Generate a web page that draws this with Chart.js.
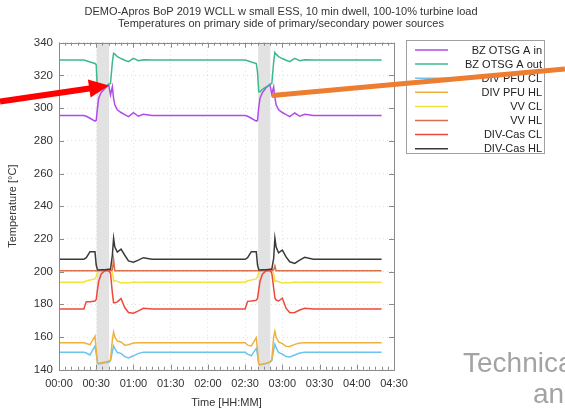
<!DOCTYPE html>
<html>
<head>
<meta charset="utf-8">
<script src="https://cdn.jsdelivr.net/npm/chart.js@4.4.1/dist/chart.umd.min.js"></script>
<style>
  html, body { margin: 0; padding: 0; background: #fff; }
  #wrap { position: relative; width: 565px; height: 411px; }
</style>
</head>
<body>
<div id="wrap"><canvas id="c" width="565" height="411"></canvas></div>
<script>
// time in minutes from start
const times = [
  0, 20, 22, 25, 29, 30, 31, 32, 34, 37, 40, 41.5, 43, 44, 45, 47, 50, 53, 56, 60, 64, 68, 75, 100,
  150, 152, 155, 159, 160, 161, 162, 164, 167, 170, 171.5, 173, 174, 175, 177, 180, 183, 186, 190, 194, 198, 205, 230, 260
];

const bzOtsgIn = [
  295.5, 295.5, 295, 293.8, 292, 292.5, 300, 306, 309.5, 312, 314.5, 308, 313, 306, 302, 299, 297.3, 296, 294.8, 297.2, 295, 296.2, 295.5, 295.5,
  295.5, 295, 293.8, 292, 292.5, 300.5, 306, 309.5, 312.5, 314.5, 308.5, 313, 306.5, 302, 299, 297.3, 296, 294.8, 297, 295, 296.2, 295.5, 295.5, 295.5
];
const bzOtsgOut = [
  329.4, 329.4, 329, 328.2, 327.3, 326.5, 310.5, 310.5, 311.5, 313, 314.5, 315, 328, 333.5, 333, 331.5, 330.3, 329.3, 328.4, 330.4, 329, 329.6, 329.4, 329.4,
  329.4, 329, 328.2, 327.3, 322, 310, 310, 311.5, 313, 314.5, 315, 328, 334, 333, 331.5, 330.3, 329.3, 328.4, 330.4, 329, 329.6, 329.4, 329.4, 329.4
];
const divPfuCl = [
  150.6, 150.6, 150.2, 149, 154.5, 150, 144, 143.5, 143.8, 144.2, 144.6, 145.5, 151, 154.5, 153, 150.5, 150, 148, 147.2, 148.5, 150, 150.6, 150.6, 150.6,
  150.6, 149.5, 148.5, 153, 149, 143.3, 143, 143.3, 143.8, 144.5, 145.5, 152, 155.5, 153.5, 150.5, 149.5, 148, 147.8, 149, 150.2, 150.6, 150.6, 150.6, 150.6
];
const divPfuHl = [
  156.5, 156.5, 156, 155.3, 160.5, 152, 144.5, 143.8, 144.2, 144.7, 145.2, 146, 158, 163, 160, 157.5, 157, 155, 155.3, 156.3, 156.5, 156.5, 156.5, 156.5,
  156.5, 155, 154.5, 159.5, 152, 143.5, 143, 143.5, 144, 144.8, 146, 160, 163.5, 160, 157, 156, 154.3, 154.2, 155.5, 156.3, 156.5, 156.5, 156.5, 156.5
];
const vvCl = [
  193.5, 193.5, 194.4, 194.8, 195.5, 197, 199.5, 200.5, 201, 201, 201, 201, 200, 194, 194.5, 194, 193, 193.3, 193, 193.6, 193.3, 193.5, 193.5, 193.5,
  193.5, 194.4, 194.8, 195.5, 197, 199.5, 200.5, 201, 201, 201, 201, 199, 194, 194.3, 193.8, 193, 193.3, 193, 193.6, 193.3, 193.5, 193.5, 193.5, 193.5
];
const vvHl = [
  200.5, 200.5, 200.5, 200.5, 200.5, 200.5, 200.5, 200.5, 200.5, 200.5, 200.5, 200.5, 201, 207.5, 200.5, 200.5, 200.5, 200.5, 200.5, 200.5, 200.5, 200.5, 200.5, 200.5,
  200.5, 200.5, 200.5, 200.5, 200.5, 200.5, 200.5, 200.5, 200.5, 200.5, 200.5, 201, 203.5, 200.5, 200.5, 200.5, 200.5, 200.5, 200.5, 200.5, 200.5, 200.5, 200.5, 200.5
];
const divCasCl = [
  177.1, 177.1, 181.5, 181.6, 182, 183, 189, 194, 198.5, 200.5, 200.8, 199, 187, 181, 181, 181.5, 183.5, 178, 175, 174.5, 176, 177.6, 177.1, 177.1,
  177.1, 181.8, 182, 182.5, 183.5, 189, 194, 198.5, 200.5, 200.8, 199, 190, 184, 182.5, 182, 183.7, 177.6, 174.8, 175, 176.5, 177.6, 177.1, 177.1, 177.1
];
const divCasHl = [
  207.5, 207.5, 208.5, 212.2, 212.2, 204, 201.2, 201, 201.2, 201.2, 201.5, 201.5, 210, 220.4, 215, 212, 213.8, 210, 206.5, 205.7, 207, 208.5, 207.5, 207.5,
  207.5, 208.5, 212.2, 212.2, 204, 201.2, 201, 201.2, 201.2, 201.5, 201.5, 208, 220.4, 215, 211.5, 213.2, 209, 206, 205, 207, 208.7, 207.5, 207.5, 207.5
];

const seriesLabels = ['BZ OTSG A in', 'BZ OTSG A out', 'DIV PFU CL', 'DIV PFU HL', 'VV CL', 'VV HL', 'DIV-Cas CL', 'DIV-Cas HL'];
const seriesValues = [bzOtsgIn, bzOtsgOut, divPfuCl, divPfuHl, vvCl, vvHl, divCasCl, divCasHl];
const seriesColors = ['#b04ae8', '#3cb88e', '#6cc4f0', '#f0b040', '#f2e43c', '#d8704a', '#f0483c', '#3a3a3a'];

const tickLabels = ['00:00', '00:30', '01:00', '01:30', '02:00', '02:30', '03:00', '03:30', '04:00', '04:30'];
const dwellBands = [[30.4, 40.4], [160.5, 170.3]];

const FONT = "'Liberation Sans', Arial, sans-serif";
const TXT = '#333';

const decor = {
  id: 'decor',
  beforeDatasetsDraw(chart) {
    const { ctx, chartArea: a, scales: { x } } = chart;
    ctx.save();
    ctx.fillStyle = '#e2e2e2';
    dwellBands.forEach(([s, e]) => {
      const x0 = x.getPixelForValue(s), x1 = x.getPixelForValue(e);
      ctx.fillRect(x0, a.top, x1 - x0, a.bottom - a.top);
    });
    ctx.restore();
  },
  afterDatasetsDraw(chart) {
    const { ctx, chartArea: a, scales: { x, y } } = chart;
    ctx.save();
    ctx.strokeStyle = '#8a8a8a';
    ctx.lineWidth = 1;
    ctx.strokeRect(Math.round(a.left) + 0.5, Math.round(a.top) + 0.5,
      Math.round(a.right - a.left), Math.round(a.bottom - a.top));
    ctx.beginPath();
    for (let t = 0; t <= 270; t += 5) {
      const px = Math.round(x.getPixelForValue(t)) + 0.5;
      const len = t % 30 === 0 ? 5 : 3;
      ctx.moveTo(px, a.bottom); ctx.lineTo(px, a.bottom - len);
      ctx.moveTo(px, a.top); ctx.lineTo(px, a.top + len);
    }
    for (let v = 140; v <= 340; v += 20) {
      const py = Math.round(y.getPixelForValue(v)) + 0.5;
      ctx.moveTo(a.left, py); ctx.lineTo(a.left + 5, py);
      ctx.moveTo(a.right, py); ctx.lineTo(a.right - 5, py);
    }
    ctx.stroke();
    ctx.restore();
  },
  afterDraw(chart) {
    const { ctx } = chart;
    ctx.save();
    // title
    ctx.fillStyle = TXT;
    ctx.font = '11px ' + FONT;
    ctx.textAlign = 'center';
    ctx.textBaseline = 'middle';
    ctx.fillText('DEMO-Apros BoP 2019 WCLL w small ESS, 10 min dwell, 100-10% turbine load', 281, 12);
    ctx.fillText('Temperatures on primary side of primary/secondary power sources', 281, 24);

    // legend
    ctx.strokeStyle = '#a0a0a0';
    ctx.lineWidth = 1;
    ctx.strokeRect(406.5, 40.5, 138, 113);
    ctx.textAlign = 'right';
    chart.data.datasets.forEach((ds, i) => {
      const ly = 50 + i * 14.1;
      ctx.strokeStyle = ds.borderColor;
      ctx.lineWidth = 1.5;
      ctx.beginPath();
      ctx.moveTo(415, ly); ctx.lineTo(448, ly);
      ctx.stroke();
      ctx.fillStyle = '#222';
      ctx.fillText(ds.label, 542, ly + 0.5);
    });

    // slide annotations
    ctx.fillStyle = '#ff0000';
    ctx.strokeStyle = '#ff0000';
    ctx.lineWidth = 6;
    ctx.beginPath();
    ctx.moveTo(0, 101.5); ctx.lineTo(91, 88.3);
    ctx.stroke();
    ctx.beginPath();
    ctx.moveTo(109, 85.5); ctx.lineTo(90.6, 97.4); ctx.lineTo(87.9, 79.4);
    ctx.closePath();
    ctx.fill();

    ctx.strokeStyle = '#ed7d31';
    ctx.lineWidth = 5;
    ctx.beginPath();
    ctx.moveTo(272, 95.5); ctx.lineTo(565, 69);
    ctx.stroke();

    ctx.fillStyle = '#a3a3a3';
    ctx.font = '28px ' + FONT;
    ctx.textAlign = 'left';
    ctx.textBaseline = 'alphabetic';
    ctx.fillText('Technica', 463, 372);
    ctx.fillText('an', 533, 403);
    ctx.restore();
  }
};

new Chart(document.getElementById('c'), {
  type: 'line',
  data: {
    datasets: seriesLabels.map((label, i) => ({
      label,
      data: times.map((t, j) => ({ x: t, y: seriesValues[i][j] })),
      borderColor: seriesColors[i],
      backgroundColor: seriesColors[i],
      borderWidth: 1.5,
      pointRadius: 0,
      tension: 0,
      order: seriesLabels.length - i,
    })),
  },
  options: {
    responsive: false,
    animation: false,
    events: [],
    layout: { padding: { top: 42.7, right: 171, left: 0, bottom: 0 } },
    plugins: {
      legend: { display: false },
      title: { display: false },
      tooltip: { enabled: false },
    },
    scales: {
      x: {
        type: 'linear',
        min: 0,
        max: 270,
        afterFit(s) { s.height = 41.3; },
        grid: { color: 'rgba(0,0,0,0.12)', drawTicks: false },
        border: { display: false, dash: [1, 3] },
        ticks: {
          stepSize: 30,
          autoSkip: false,
          maxRotation: 0,
          padding: 8,
          color: TXT,
          font: { family: FONT, size: 11 },
          callback: (v, i) => tickLabels[i],
        },
        title: {
          display: true,
          text: 'Time [HH:MM]',
          color: TXT,
          font: { family: FONT, size: 11 },
          padding: { top: 0, bottom: 1 },
        },
      },
      y: {
        min: 140,
        max: 340,
        afterFit(s) { s.width = 59; },
        grid: { color: 'rgba(0,0,0,0.12)', drawTicks: false },
        border: { display: false, dash: [1, 3] },
        ticks: {
          stepSize: 20,
          padding: 6,
          color: TXT,
          font: { family: FONT, size: 11.5 },
        },
        title: {
          display: true,
          text: 'Temperature [°C]',
          color: TXT,
          font: { family: FONT, size: 11 },
          padding: { top: 6, bottom: 0 },
        },
      },
    },
  },
  plugins: [decor],
});
</script>
</body>
</html>
